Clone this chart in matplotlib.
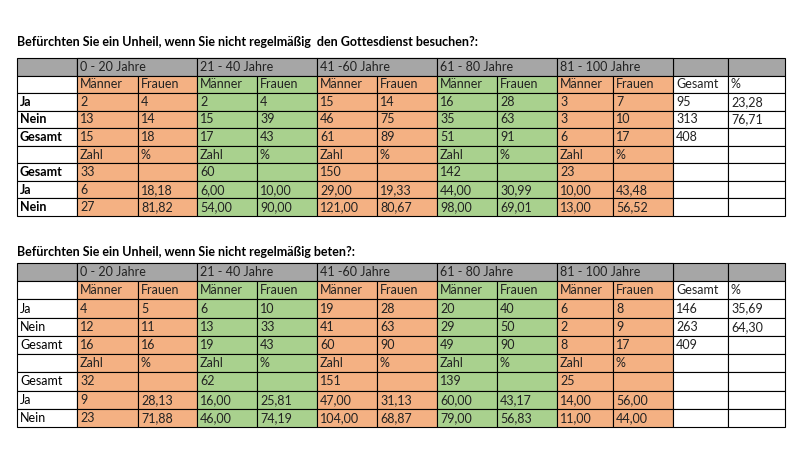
import matplotlib.pyplot as plt
from matplotlib.patches import Rectangle

plt.rcParams['font.family'] = ['Lato', 'DejaVu Sans']

title1 = "Befürchten Sie ein Unheil, wenn Sie nicht regelmäßig  den Gottesdienst besuchen?:"
title2 = "Befürchten Sie ein Unheil, wenn Sie nicht regelmäßig beten?:"

age_groups1 = ["0 - 20 Jahre", "21 - 40 Jahre", "41 -60 Jahre", "61 - 80 Jahre", "81 - 100 Jahre"]
age_groups2 = ["0 - 20 Jahre", "21 - 40 Jahre", "41 -60 Jahre", "61 - 80 Jahre", "81 - 100 Jahre"]
row_labels = ["", "Ja", "Nein", "Gesamt", "", "Gesamt", "Ja", "Nein"]

# body rows: 10 block cells + Gesamt + %
rows1 = [
    ["Männer", "Frauen"] * 5 + ["Gesamt", "%"],
    ["2", "4", "2", "4", "15", "14", "16", "28", "3", "7", "95", "23,28"],
    ["13", "14", "15", "39", "46", "75", "35", "63", "3", "10", "313", "76,71"],
    ["15", "18", "17", "43", "61", "89", "51", "91", "6", "17", "408", ""],
    ["Zahl", "%"] * 5 + ["", ""],
    ["33", "", "60", "", "150", "", "142", "", "23", "", "", ""],
    ["6", "18,18", "6,00", "10,00", "29,00", "19,33", "44,00", "30,99", "10,00", "43,48", "", ""],
    ["27", "81,82", "54,00", "90,00", "121,00", "80,67", "98,00", "69,01", "13,00", "56,52", "", ""],
]
rows2 = [
    ["Männer", "Frauen"] * 5 + ["Gesamt", "%"],
    ["4", "5", "6", "10", "19", "28", "20", "40", "6", "8", "146", "35,69"],
    ["12", "11", "13", "33", "41", "63", "29", "50", "2", "9", "263", "64,30"],
    ["16", "16", "19", "43", "60", "90", "49", "90", "8", "17", "409", ""],
    ["Zahl", "%"] * 5 + ["", ""],
    ["32", "", "62", "", "151", "", "139", "", "25", "", "", ""],
    ["9", "28,13", "16,00", "25,81", "47,00", "31,13", "60,00", "43,17", "14,00", "56,00", "", ""],
    ["23", "71,88", "46,00", "74,19", "104,00", "68,87", "79,00", "56,83", "11,00", "44,00", "", ""],
]

GRAY = "#a6a6a6"
ORANGE = "#f4b183"
GREEN = "#a9d18e"
block_colors = [ORANGE, GREEN, ORANGE, GREEN, ORANGE]

col_x = [17, 77, 138, 197, 257, 317, 377, 437, 497, 557, 613, 673, 728, 785]
FS = 9

fig = plt.figure(figsize=(7.97, 4.71), dpi=100)
ax = fig.add_axes([0, 0, 1, 1])
ax.set_xlim(0, 797)
ax.set_ylim(471, 0)
ax.axis('off')


def draw_table(title, title_y, top, bottom, groups, rows, bold_labels):
    ax.text(17, title_y, title, fontsize=9, fontweight='bold', va='center', ha='left')
    n = len(rows) + 1
    h = (bottom - top) / n
    # header row
    for i in range(len(col_x) - 1):
        ax.add_patch(Rectangle((col_x[i], top), col_x[i + 1] - col_x[i], h,
                               facecolor=GRAY, edgecolor='black', lw=0.8))
    for b, g in enumerate(groups):
        x0 = col_x[1 + 2 * b]
        x1 = col_x[3 + 2 * b]
        ax.add_patch(Rectangle((x0, top), x1 - x0, h, facecolor=GRAY, edgecolor='black', lw=0.8))
        ax.text(x0 + 3, top + h / 2, g, fontsize=FS, va='center', ha='left', color='#222222')
    for r, row in enumerate(rows):
        y = top + h * (r + 1)
        ax.add_patch(Rectangle((col_x[0], y), col_x[1] - col_x[0], h,
                               facecolor='white', edgecolor='black', lw=0.8))
        ax.text(col_x[0] + 3, y + h / 2, row_labels[r], fontsize=FS, va='center', ha='left',
                fontweight='bold' if bold_labels else 'normal')
        for c, val in enumerate(row):
            x0 = col_x[c + 1]
            x1 = col_x[c + 2]
            fc = block_colors[c // 2] if c < 10 else 'white'
            ax.add_patch(Rectangle((x0, y), x1 - x0, h, facecolor=fc, edgecolor='black', lw=0.8))
            ax.text(x0 + 3, y + h / 2, val, fontsize=FS, va='center', ha='left', color='#222222')


draw_table(title1, 42, 58, 216, age_groups1, rows1, True)
draw_table(title2, 252, 263, 427, age_groups2, rows2, False)

fig.savefig('out.png', dpi=100)
plt.close(fig)
